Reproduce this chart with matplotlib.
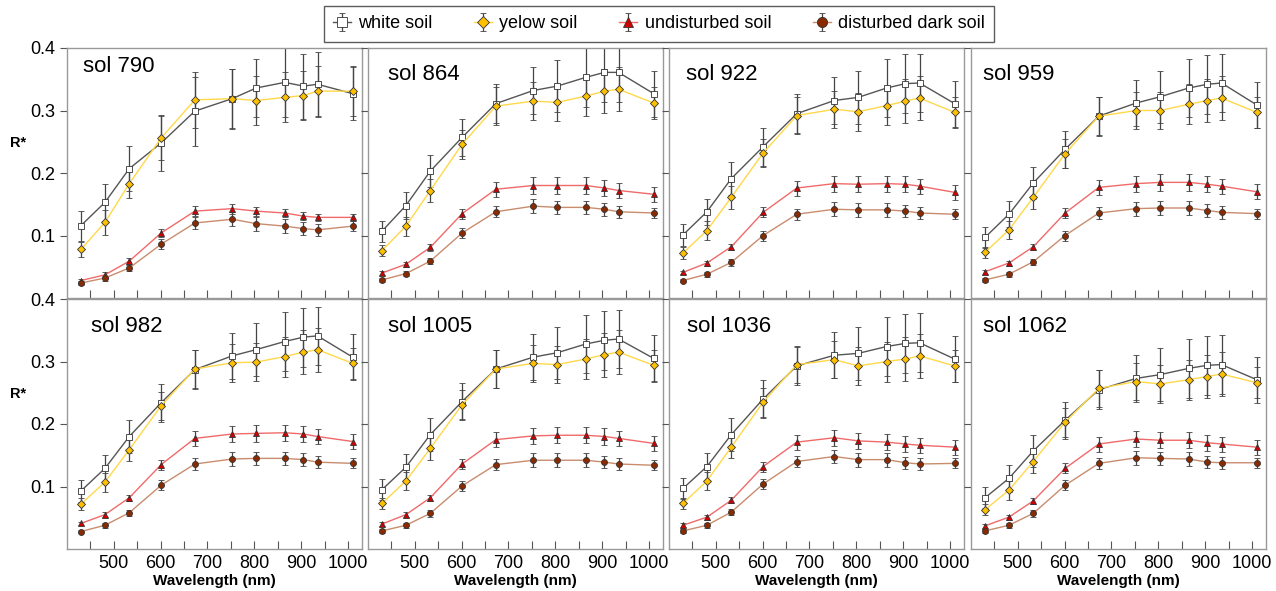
import numpy as np
import matplotlib
matplotlib.use("Agg")
import matplotlib.pyplot as plt

plt.rcParams["font.family"] = ["Liberation Sans", "DejaVu Sans"]

# ─────────────────────────────────────────────
# Data: band centres (nm) and R* per sol / soil type
# ─────────────────────────────────────────────
wavelength = [430, 481, 533, 601, 673, 753, 804, 865, 905, 935, 1010]

sols = [790, 864, 922, 959, 982, 1005, 1036, 1062]

white_soil = {
    790:  [0.116, 0.153, 0.207, 0.248, 0.299, 0.319, 0.336, 0.345, 0.339, 0.342, 0.327],
    864:  [0.107, 0.148, 0.203, 0.257, 0.311, 0.332, 0.339, 0.353, 0.361, 0.361, 0.327],
    922:  [0.101, 0.138, 0.191, 0.242, 0.295, 0.316, 0.321, 0.336, 0.343, 0.344, 0.311],
    959:  [0.097, 0.134, 0.184, 0.238, 0.291, 0.312, 0.322, 0.336, 0.342, 0.344, 0.309],
    982:  [0.093, 0.129, 0.180, 0.234, 0.287, 0.309, 0.319, 0.332, 0.339, 0.341, 0.307],
    1005: [0.095, 0.131, 0.183, 0.236, 0.288, 0.307, 0.314, 0.328, 0.334, 0.336, 0.305],
    1036: [0.097, 0.132, 0.183, 0.240, 0.293, 0.310, 0.313, 0.324, 0.329, 0.330, 0.304],
    1062: [0.082, 0.113, 0.157, 0.206, 0.255, 0.273, 0.279, 0.289, 0.294, 0.295, 0.271],
}
yellow_soil = {
    790:  [0.078, 0.121, 0.183, 0.256, 0.317, 0.319, 0.316, 0.321, 0.324, 0.331, 0.331],
    864:  [0.076, 0.115, 0.172, 0.246, 0.307, 0.315, 0.313, 0.323, 0.331, 0.334, 0.312],
    922:  [0.072, 0.108, 0.161, 0.232, 0.292, 0.302, 0.298, 0.308, 0.315, 0.320, 0.297],
    959:  [0.073, 0.109, 0.161, 0.231, 0.291, 0.300, 0.300, 0.310, 0.316, 0.320, 0.297],
    982:  [0.072, 0.107, 0.159, 0.229, 0.288, 0.298, 0.299, 0.308, 0.315, 0.319, 0.297],
    1005: [0.073, 0.109, 0.161, 0.231, 0.288, 0.297, 0.295, 0.304, 0.311, 0.315, 0.294],
    1036: [0.073, 0.109, 0.163, 0.235, 0.295, 0.303, 0.293, 0.300, 0.304, 0.309, 0.293],
    1062: [0.063, 0.094, 0.140, 0.203, 0.257, 0.268, 0.264, 0.271, 0.276, 0.280, 0.266],
}
undisturbed_soil = {
    790:  [0.028, 0.037, 0.059, 0.104, 0.139, 0.143, 0.139, 0.136, 0.131, 0.129, 0.129],
    864:  [0.040, 0.054, 0.081, 0.135, 0.174, 0.180, 0.180, 0.180, 0.176, 0.172, 0.166],
    922:  [0.041, 0.056, 0.082, 0.137, 0.176, 0.183, 0.182, 0.183, 0.182, 0.179, 0.169],
    959:  [0.042, 0.056, 0.082, 0.136, 0.177, 0.183, 0.185, 0.185, 0.182, 0.179, 0.170],
    982:  [0.041, 0.055, 0.082, 0.135, 0.177, 0.184, 0.185, 0.186, 0.184, 0.180, 0.172],
    1005: [0.040, 0.055, 0.082, 0.136, 0.175, 0.181, 0.182, 0.182, 0.180, 0.177, 0.169],
    1036: [0.038, 0.051, 0.078, 0.132, 0.171, 0.178, 0.173, 0.171, 0.168, 0.166, 0.163],
    1062: [0.037, 0.051, 0.077, 0.129, 0.168, 0.176, 0.174, 0.174, 0.170, 0.168, 0.163],
}
disturbed_soil = {
    790:  [0.024, 0.032, 0.048, 0.086, 0.120, 0.126, 0.119, 0.115, 0.111, 0.109, 0.115],
    864:  [0.029, 0.039, 0.059, 0.104, 0.138, 0.147, 0.145, 0.145, 0.142, 0.138, 0.136],
    922:  [0.028, 0.038, 0.057, 0.100, 0.134, 0.142, 0.141, 0.141, 0.139, 0.136, 0.134],
    959:  [0.029, 0.038, 0.058, 0.100, 0.136, 0.143, 0.144, 0.144, 0.140, 0.137, 0.135],
    982:  [0.028, 0.038, 0.058, 0.102, 0.136, 0.144, 0.145, 0.145, 0.143, 0.139, 0.137],
    1005: [0.029, 0.038, 0.057, 0.101, 0.135, 0.142, 0.142, 0.142, 0.139, 0.136, 0.134],
    1036: [0.029, 0.038, 0.059, 0.104, 0.140, 0.148, 0.143, 0.143, 0.138, 0.136, 0.137],
    1062: [0.029, 0.038, 0.057, 0.102, 0.137, 0.146, 0.145, 0.144, 0.139, 0.138, 0.138],
}

# 1-sigma spread per band (sol 790 was noisier)
err_white      = [0.017, 0.021, 0.026, 0.030, 0.031, 0.037, 0.042, 0.047, 0.047, 0.047, 0.037]
err_yellow     = [0.009, 0.015, 0.018, 0.023, 0.030, 0.030, 0.030, 0.032, 0.035, 0.035, 0.025]
err_red        = [0.003, 0.004, 0.005, 0.008, 0.012, 0.013, 0.013, 0.013, 0.013, 0.012, 0.012]
err_brown      = [0.003, 0.004, 0.005, 0.008, 0.009, 0.011, 0.011, 0.011, 0.010, 0.010, 0.008]
err_white_790  = [0.024, 0.029, 0.036, 0.045, 0.055, 0.048, 0.047, 0.055, 0.052, 0.052, 0.042]
err_yellow_790 = [0.012, 0.020, 0.023, 0.035, 0.045, 0.047, 0.040, 0.040, 0.040, 0.040, 0.040]
err_red_790    = [0.003, 0.004, 0.005, 0.006, 0.008, 0.008, 0.007, 0.007, 0.006, 0.006, 0.005]

# label, data, marker, face colour, line colour
series = [
    ("white soil",          white_soil,       "s", "white",   "#555555"),
    ("yelow soil",          yellow_soil,      "D", "#FFC000", "#FFD84A"),
    ("undisturbed soil",    undisturbed_soil, "^", "#D00000", "#F06A6A"),
    ("disturbed dark soil", disturbed_soil,   "o", "#8A2A00", "#C98C6E"),
]
msize = {"s": 4.0, "D": 3.6, "^": 4.2, "o": 4.3}

def errors_for(name, sol):
    if name == "white soil":
        return err_white_790 if sol == 790 else err_white
    if name == "yelow soil":
        return err_yellow_790 if sol == 790 else err_yellow
    if name == "undisturbed soil":
        return err_red_790 if sol == 790 else err_red
    return err_brown

# ─────────────────────────────────────────────
# Figure: 2 x 4 panels, placed by hand (pixel units)
# ─────────────────────────────────────────────
W, H = 1276, 591
fig = plt.figure(figsize=(W / 100, H / 100), dpi=100)

col_left = [67, 368, 669, 971]
row_top = [48, 299]
pw, ph = 295, 250
title_dx = [16, 20, 17, 12, 24, 20, 18, 12]      # panel title offset from left spine
title_y = [0.905, 0.87, 0.87, 0.87, 0.87, 0.87, 0.87, 0.87]

handles = []
for i, sol in enumerate(sols):
    r, c = divmod(i, 4)
    ax = fig.add_axes([col_left[c] / W, 1 - (row_top[r] + ph) / H, pw / W, ph / H])

    for name, data, mk, face, line in series:
        h = ax.errorbar(wavelength, data[sol], yerr=errors_for(name, sol),
                        fmt=mk, linestyle="-", color=line, lw=1.0,
                        ms=msize[mk], mfc=face, mec="#333333", mew=0.6,
                        ecolor="#444444", elinewidth=0.9, capsize=2.0, capthick=0.9)
        if i == 0:
            handles.append(h)

    ax.set_xlim(400, 1030)
    ax.set_ylim(0, 0.4)
    ax.set_xticks([500, 600, 700, 800, 900, 1000])
    ax.set_xticks(np.arange(450, 1000, 100), minor=True)
    ax.set_yticks([0.1, 0.2, 0.3, 0.4])
    ax.tick_params(axis="x", which="both", direction="in", length=6,
                   width=0.8, color="#555555", labelsize=13, pad=4)
    ax.tick_params(axis="y", direction="out", length=5, width=0.8,
                   color="#555555", labelsize=13)
    for s in ax.spines.values():
        s.set_color("#999999")
        s.set_linewidth(1.0)

    if r == 0:
        ax.set_xticklabels([])
    else:
        ax.set_xlabel("Wavelength (nm)", fontsize=11, fontweight="bold", labelpad=2)
    if c == 0:
        ax.set_yticklabels(["0.1", "0.2", "0.3", "0.4"])
        ax.text(-0.165, 0.62, "R*", transform=ax.transAxes, fontsize=10.5,
                fontweight="bold", ha="center", va="center")
    else:
        ax.set_yticklabels([])

    ax.text(title_dx[i] / pw, title_y[i], f"sol {sol}", transform=ax.transAxes,
            fontsize=16, ha="left", va="baseline")

leg = fig.legend(handles, [s[0] for s in series], loc="center",
                 bbox_to_anchor=(659 / W, 1 - 24 / H), ncol=4, fontsize=13,
                 frameon=True, fancybox=False, handlelength=1.0, markerscale=1.7,
                 handletextpad=0.4, columnspacing=2.3, borderpad=0.5)
leg.get_frame().set_edgecolor("#333333")
leg.get_frame().set_linewidth(1.0)

fig.savefig("out.png", dpi=100)
